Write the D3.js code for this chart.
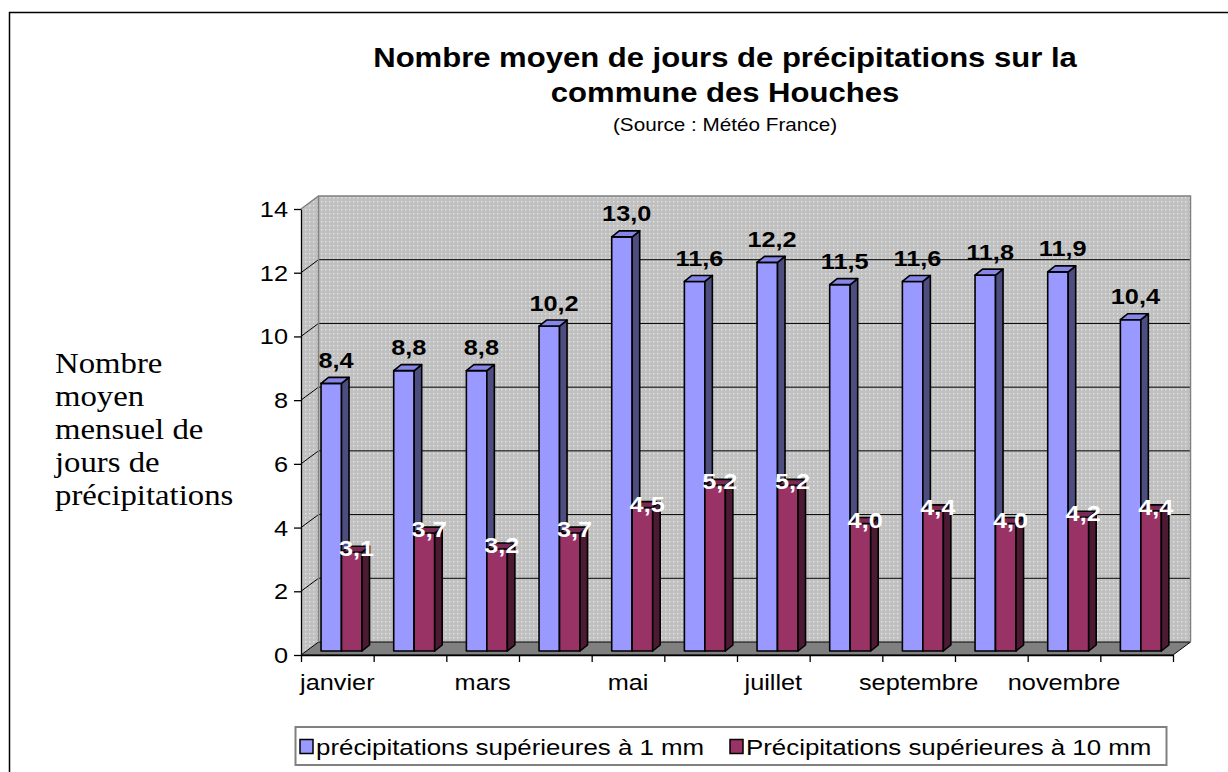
<!DOCTYPE html>
<html>
<head>
<meta charset="utf-8">
<script src="https://cdn.jsdelivr.net/npm/d3@7"></script>
<style>
	html, body { margin: 0; padding: 0; background: #fff; }
	svg { display: block; }
</style>
</head>
<body>
<svg id="chart" width="1228" height="772"></svg>
<script>

//############
//### data ###
//############
var months = ["janvier", "février", "mars", "avril", "mai", "juin", "juillet", "août", "septembre", "octobre", "novembre", "décembre"];
var sup1mm = [8.4, 8.8, 8.8, 10.2, 13.0, 11.6, 12.2, 11.5, 11.6, 11.8, 11.9, 10.4];
var sup10mm = [3.1, 3.7, 3.2, 3.7, 4.5, 5.2, 5.2, 4.0, 4.4, 4.0, 4.2, 4.4];
var seriesNames = ["précipitations supérieures à 1 mm", "Précipitations supérieures à 10 mm"];
var yTicks = [0, 2, 4, 6, 8, 10, 12, 14];
var titleLines = ["Nombre moyen de jours de précipitations sur la", "commune des Houches"];
var subtitle = "(Source : Météo France)";
var yTitleLines = ["Nombre", "moyen", "mensuel de", "jours de", "précipitations"];

//#################
//### constants ###
//#################
var SX = 1.15;                          // the reference text is drawn a bit wide
var WALL_DX = 17.5, WALL_DY = -13;      // depth of the 3d walls
var BAR_DX = 4.2, BAR_DY = -4;          // bars stand a little behind the front edge
var DEPTH_DX = 7.5, DEPTH_DY = -6;      // depth of one bar
var SANS = "'Liberation Sans', Arial, sans-serif";
var SERIF = "'Liberation Serif', 'Times New Roman', serif";

var colors = {
	sup1: { front: "#9999ff", side: "#4d4d80", top: "#8686e6" },
	sup10: { front: "#993366", side: "#4d1a33", top: "#7a2952" }
};

var svg = d3.select("#chart");

// text widened horizontally, like the picture
var stretchedText = function(parent, x, y, str, size, anchor, family, weight, fill){
	return parent.append("text")
		.attr("transform", "translate(" + x + "," + y + ") scale(" + SX + ",1)")
		.attr("text-anchor", anchor || "start")
		.style("font-family", family || SANS)
		.style("font-size", size + "px")
		.style("font-weight", weight || "normal")
		.style("fill", fill || "#000")
		.text(str);
};

//##############
//### scales ###
//##############
var y = d3.scaleLinear().domain([0, 14]).range([655, 209]);
var xEdge = d3.scaleLinear().domain([0, 12]).range([301, 1173]);
var xMonth = d3.scaleBand().domain(months).range([301, 1173]).paddingInner(0.436).paddingOuter(0.218);
var xSeries = d3.scaleBand().domain(["sup1", "sup10"]).range([0, xMonth.bandwidth()]);

// dotted fill of the walls
var defs = svg.append("defs");
var pat = defs.append("pattern")
	.attr("id", "dots")
	.attr("patternUnits", "userSpaceOnUse")
	.attr("width", 4)
	.attr("height", 4);
pat.append("rect").attr("width", 4).attr("height", 4).attr("fill", "#c0c0c0");
pat.append("rect").attr("x", 1).attr("y", 1).attr("width", 1.4).attr("height", 1.4).attr("fill", "#e4e4e4");

// outer frame (runs off the page)
svg.append("path")
	.attr("d", "M9.5,800 V12.5 H1240")
	.attr("fill", "none")
	.attr("stroke", "#000")
	.attr("stroke-width", 1.5);

//#############
//### title ###
//#############
stretchedText(svg, 725, 67, titleLines[0], 27, "middle", SANS, "bold");
stretchedText(svg, 725, 102, titleLines[1], 27, "middle", SANS, "bold");
stretchedText(svg, 725, 131, subtitle, 18, "middle");

yTitleLines.forEach(function(line, i){
	stretchedText(svg, 55, 373 + i * 33, line, 28.5, "start", SERIF);
});

//############
//### walls ###
//############
var x0 = xEdge(0), x1 = xEdge(12), yb = y(0), yt = y(14);

// back wall
svg.append("rect")
	.attr("x", x0 + WALL_DX)
	.attr("y", yt + WALL_DY)
	.attr("width", x1 - x0)
	.attr("height", yb - yt)
	.attr("fill", "url(#dots)");

// side wall
svg.append("polygon")
	.attr("points", [[x0, yt], [x0 + WALL_DX, yt + WALL_DY], [x0 + WALL_DX, yb + WALL_DY], [x0, yb]].join(" "))
	.attr("fill", "url(#dots)");

// floor
svg.append("polygon")
	.attr("points", [[x0, yb], [x0 + WALL_DX, yb + WALL_DY], [x1 + WALL_DX, yb + WALL_DY], [x1, yb]].join(" "))
	.attr("fill", "#808080")
	.attr("stroke", "#000")
	.attr("stroke-width", 1);

// gridlines
var grid = svg.append("g");
yTicks.filter(function(v){ return v > 0 && v < 14; }).forEach(function(v){
	grid.append("polyline")
		.attr("points", [[x0, y(v)], [x0 + WALL_DX, y(v) + WALL_DY], [x1 + WALL_DX, y(v) + WALL_DY]].join(" "))
		.attr("fill", "none")
		.attr("stroke", "#000")
		.attr("stroke-width", 1);
});

// wall borders
svg.append("polyline")
	.attr("points", [[x0, yt], [x0 + WALL_DX, yt + WALL_DY], [x1 + WALL_DX, yt + WALL_DY], [x1 + WALL_DX, yb + WALL_DY]].join(" "))
	.attr("fill", "none")
	.attr("stroke", "#808080")
	.attr("stroke-width", 1.5);
svg.append("line")
	.attr("x1", x0 + WALL_DX).attr("y1", yt + WALL_DY)
	.attr("x2", x0 + WALL_DX).attr("y2", yb + WALL_DY)
	.attr("stroke", "#808080")
	.attr("stroke-width", 1.5);

//############
//### axes ###
//############
var yAxis = svg.append("g")
	.attr("transform", "translate(" + x0 + ",0)")
	.call(d3.axisLeft(y).tickValues(yTicks).tickSize(7).tickSizeOuter(0).tickFormat(""));

var xAxis = svg.append("g")
	.attr("transform", "translate(0," + yb + ")")
	.call(d3.axisBottom(xEdge).ticks(12).tickSize(7).tickSizeOuter(0).tickFormat(""));

[yAxis, xAxis].forEach(function(a){
	a.selectAll("path, line").attr("stroke", "#000").attr("stroke-width", 1.3);
});

yTicks.forEach(function(v){
	stretchedText(svg, 288, y(v) + 8, String(v), 22, "end");
});

months.forEach(function(m, i){
	if(i % 2 == 0){
		stretchedText(svg, xEdge(i + 0.5), 690, m, 22, "middle");
	}
});

//############
//### bars ###
//############
var barLayer = svg.append("g");
var labelLayer = svg.append("g");

var drawBar = function(month, key, value){
	var c = colors[key];
	var bx = xMonth(month) + xSeries(key) + BAR_DX;
	var bw = xSeries.bandwidth();
	var by = y(value) + BAR_DY;
	var bb = y(0) + BAR_DY;
	var g = barLayer.append("g")
		.attr("stroke", "#000")
		.attr("stroke-width", 1.6)
		.attr("stroke-linejoin", "round");

	g.append("rect")
		.attr("x", bx).attr("y", by)
		.attr("width", bw).attr("height", bb - by)
		.attr("fill", c.front);
	g.append("polygon")
		.attr("points", [[bx + bw, by], [bx + bw + DEPTH_DX, by + DEPTH_DY], [bx + bw + DEPTH_DX, bb + DEPTH_DY], [bx + bw, bb]].join(" "))
		.attr("fill", c.side);
	g.append("polygon")
		.attr("points", [[bx, by], [bx + DEPTH_DX, by + DEPTH_DY], [bx + bw + DEPTH_DX, by + DEPTH_DY], [bx + bw, by]].join(" "))
		.attr("fill", c.top);

	var cx = bx + bw / 2 + DEPTH_DX / 2;
	var cy = by + DEPTH_DY / 2;
	var label = d3.format(".1f")(value).replace(".", ",");
	if(key == "sup1"){
		stretchedText(labelLayer, cx + 1, cy - 12.5, label, 22, "middle", SANS, "bold", "#000");
	}else{
		stretchedText(labelLayer, cx + 1, cy + 7, label, 22, "middle", SANS, "bold", "#fff");
	}
};

months.forEach(function(m, i){
	drawBar(m, "sup1", sup1mm[i]);
	drawBar(m, "sup10", sup10mm[i]);
});

//##############
//### legend ###
//##############
var legend = svg.append("g");
legend.append("rect")
	.attr("x", 295.5).attr("y", 727)
	.attr("width", 871).attr("height", 38)
	.attr("fill", "#fff")
	.attr("stroke", "#808080")
	.attr("stroke-width", 2);

var legendItems = [
	{ key: "sup1", name: seriesNames[0], x: 300 },
	{ key: "sup10", name: seriesNames[1], x: 730 }
];
legendItems.forEach(function(it){
	legend.append("rect")
		.attr("x", it.x).attr("y", 739.5)
		.attr("width", 13).attr("height", 14)
		.attr("fill", colors[it.key].front)
		.attr("stroke", "#000")
		.attr("stroke-width", 1.5);
	stretchedText(legend, it.x + 16, 755, it.name, 22.5, "start");
});

</script>
</body>
</html>
